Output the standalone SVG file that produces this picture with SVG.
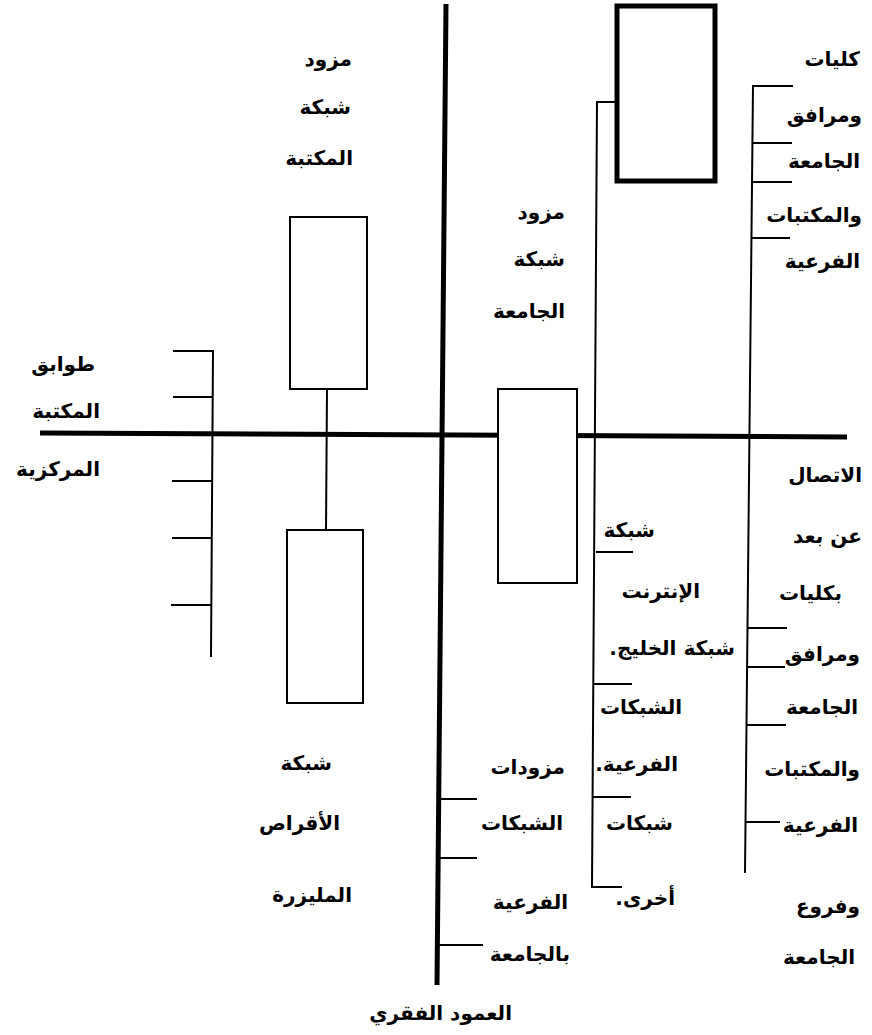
<svg xmlns="http://www.w3.org/2000/svg" width="872" height="1035" viewBox="0 0 872 1035">
<style>
.t{font-family:"DejaVu Sans","Liberation Sans",sans-serif;font-weight:bold;font-size:20px;fill:#000;direction:rtl;unicode-bidi:embed;text-anchor:start}
.thin{stroke:#000;stroke-width:2;fill:none}
.thick{stroke:#000;stroke-width:5;fill:none}
.box{stroke:#000;stroke-width:2;fill:#fff}
</style>
<rect width="872" height="1035" fill="#fff"/>
<g id="connectors">
<line class="thick" x1="40" y1="433" x2="847" y2="437"/>
<line class="thick" x1="446" y1="4" x2="437" y2="985"/>
<polyline class="thin" points="173,351 213,351 211,657"/>
<line class="thin" x1="173" y1="397" x2="213" y2="397"/>
<line class="thin" x1="172" y1="481" x2="212" y2="481"/>
<line class="thin" x1="172" y1="538" x2="211" y2="538"/>
<line class="thin" x1="171" y1="605" x2="211" y2="605"/>
<line class="thin" x1="327" y1="389" x2="326" y2="530"/>
<polyline class="thin" points="617,102 597,102 592,887 622,887"/>
<line class="thin" x1="596" y1="552" x2="633" y2="552"/>
<line class="thin" x1="593" y1="684" x2="632" y2="684"/>
<line class="thin" x1="592" y1="797" x2="631" y2="797"/>
<polyline class="thin" points="793,86 753,86 745,873"/>
<line class="thin" x1="753" y1="143" x2="792" y2="143"/>
<line class="thin" x1="753" y1="182" x2="792" y2="182"/>
<line class="thin" x1="752" y1="238" x2="790" y2="238"/>
<line class="thin" x1="748" y1="628" x2="787" y2="628"/>
<line class="thin" x1="748" y1="667" x2="785" y2="667"/>
<line class="thin" x1="747" y1="725" x2="786" y2="725"/>
<line class="thin" x1="746" y1="822" x2="780" y2="822"/>
<line class="thin" x1="439" y1="799" x2="477" y2="799"/>
<line class="thin" x1="439" y1="858" x2="477" y2="858"/>
<line class="thin" x1="438" y1="945" x2="483" y2="945"/>
</g>
<g id="node-top-box"><rect x="617" y="6" width="98" height="175" stroke="#000" stroke-width="5" fill="#fff"/></g>
<g id="node-library-server-box"><rect x="290" y="217" width="77" height="172" class="box"/></g>
<g id="node-cd-box"><rect x="287" y="530" width="76" height="173" class="box"/></g>
<g id="node-center-box"><rect x="498" y="389" width="79" height="194" class="box"/></g>
<g id="label-library-server">
<text class="t" x="352" y="66">مزود</text>
<text class="t" x="351" y="114">شبكة</text>
<text class="t" x="353" y="165">المكتبة</text>
</g>
<g id="label-colleges">
<text class="t" x="860" y="66">كليات</text>
<text class="t" x="862" y="122">ومرافق</text>
<text class="t" x="860" y="168">الجامعة</text>
<text class="t" x="862" y="222">والمكتبات</text>
<text class="t" x="860" y="268">الفرعية</text>
</g>
<g id="label-university-server">
<text class="t" x="565" y="219">مزود</text>
<text class="t" x="565" y="266">شبكة</text>
<text class="t" x="565" y="318">الجامعة</text>
</g>
<g id="label-floors">
<text class="t" x="95" y="371">طوابق</text>
<text class="t" x="100" y="418">المكتبة</text>
<text class="t" x="100" y="476">المركزية</text>
</g>
<g id="label-remote">
<text class="t" x="862" y="482">الاتصال</text>
<text class="t" x="862" y="543">عن بعد</text>
<text class="t" x="842" y="600">بكليات</text>
<text class="t" x="860" y="661">ومرافق</text>
<text class="t" x="858" y="714">الجامعة</text>
<text class="t" x="860" y="776">والمكتبات</text>
<text class="t" x="858" y="832">الفرعية</text>
<text class="t" x="860" y="913">وفروع</text>
<text class="t" x="855" y="964">الجامعة</text>
</g>
<g id="label-networks">
<text class="t" x="655" y="537">شبكة</text>
<text class="t" x="700" y="598">الإنترنت</text>
<text class="t" x="735" y="655">شبكة الخليج.</text>
<text class="t" x="682" y="714">الشبكات</text>
<text class="t" x="678" y="771">الفرعية.</text>
<text class="t" x="673" y="830">شبكات</text>
<text class="t" x="675" y="905">أخرى.</text>
</g>
<g id="label-subservers">
<text class="t" x="565" y="774">مزودات</text>
<text class="t" x="563" y="830">الشبكات</text>
<text class="t" x="568" y="909">الفرعية</text>
<text class="t" x="570" y="961">بالجامعة</text>
</g>
<g id="label-cd">
<text class="t" x="332" y="770">شبكة</text>
<text class="t" x="340" y="830">الأقراص</text>
<text class="t" x="352" y="902">المليزرة</text>
</g>
<g id="label-backbone">
<text class="t" x="512" y="1020">العمود الفقري</text>
</g>
</svg>
